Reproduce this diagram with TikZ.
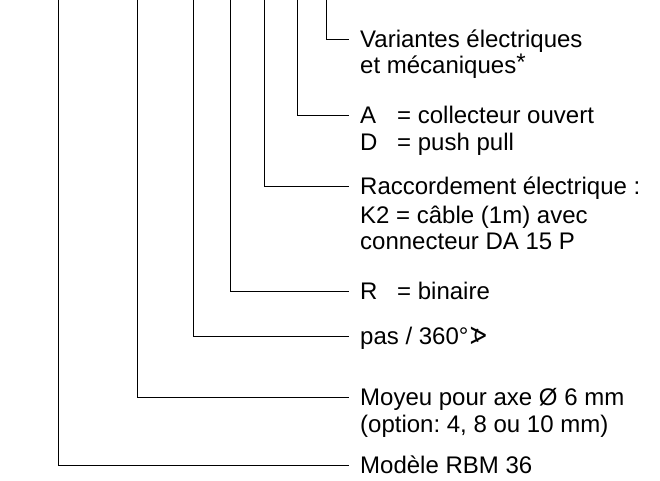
\documentclass[tikz,border=0pt]{standalone}
\usepackage{fontspec}
\setmainfont{Liberation Sans}
\newfontfamily\symfont{DejaVu Sans}
\usepackage{graphicx}
\frenchspacing
\newcommand{\eqcol}[1]{\makebox[37pt][l]{#1}}
\begin{document}
\begin{tikzpicture}[x=1pt,y=-1pt,
  txt/.style={anchor=base west,inner sep=0pt,font=\fontsize{24}{27}\selectfont},
  head/.style={anchor=west,inner ysep=0pt,inner xsep=11pt,text height=17.2pt,text depth=0pt,font=\fontsize{24}{27}\selectfont},
  leader/.style={line width=1pt,draw=black}]
\useasboundingbox (0,0) rectangle (660,480);
% top ends of the leaders
\coordinate (t1) at (326,0);
\coordinate (t2) at (297,0);
\coordinate (t3) at (264,0);
\coordinate (t4) at (230,0);
\coordinate (t5) at (193,0);
\coordinate (t6) at (137,0);
\coordinate (t7) at (58,0);
% labels
\node[head] (var) at (349,39) {Variantes électriques};
\node[txt] (var2) at (360,73) {et mécaniques\raisebox{3pt}{*}};
\node[head] (ad) at (349,115) {\eqcol{A}= collecteur ouvert};
\node[txt] (ad2) at (360,150) {\eqcol{D}= push pull};
\node[head] (rac) at (349,186) {Raccordement électrique :};
\node[txt] (rac2) at (360,223) {K2 = câble (1m) avec};
\node[txt] (rac3) at (360,249) {connecteur DA 15 P};
\node[head] (bin) at (349,291) {\eqcol{R}= binaire};
\node[head] (pas) at (349,336) {pas / 360°{\symfont\reflectbox{∢}}};
\node[head] (moy) at (349,397) {Moyeu pour axe Ø 6 mm};
\node[txt] (moy2) at (360,432) {(option: 4, 8 ou 10 mm)};
\node[head] (mod) at (349,465) {Modèle RBM 36};
% leaders
\draw[leader] (t1) |- (var.west);
\draw[leader] (t2) |- (ad.west);
\draw[leader] (t3) |- (rac.west);
\draw[leader] (t4) |- (bin.west);
\draw[leader] (t5) |- (pas.west);
\draw[leader] (t6) |- (moy.west);
\draw[leader] (t7) |- (mod.west);
\end{tikzpicture}
\end{document}
